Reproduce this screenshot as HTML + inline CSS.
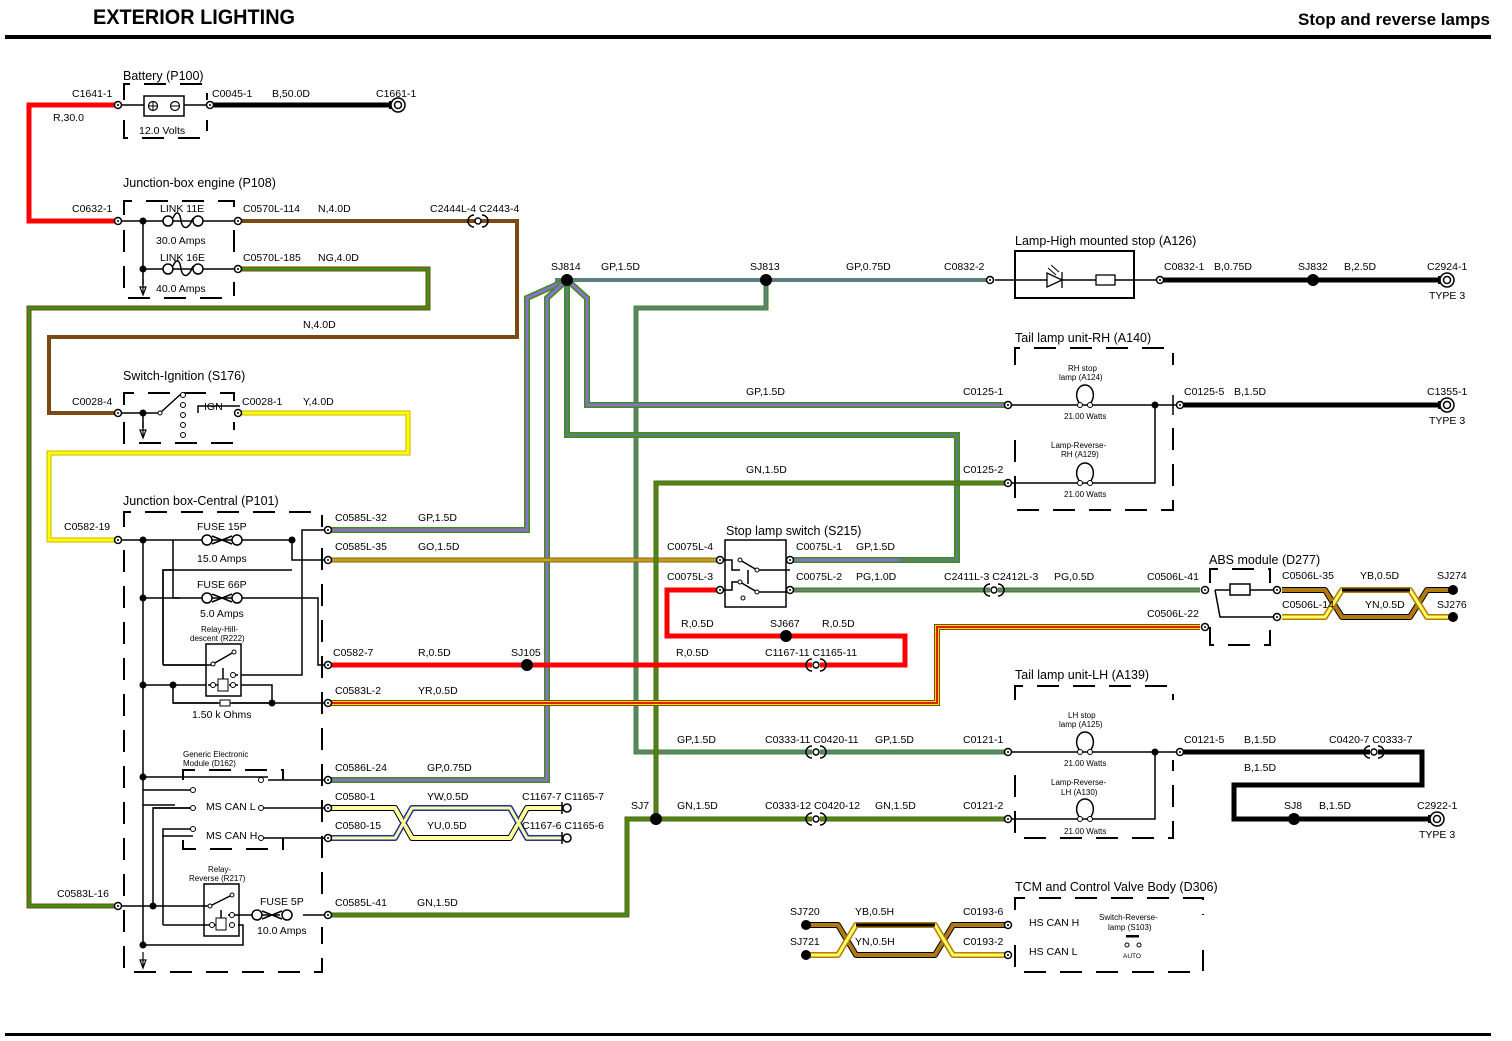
<!DOCTYPE html>
<html><head><meta charset="utf-8"><style>
html,body{margin:0;padding:0;background:#fff;}
svg{display:block;}
text{font-family:"Liberation Sans",sans-serif;font-size:11px;fill:#000;}
.h{font-family:"Liberation Sans Narrow","Liberation Sans",sans-serif;font-weight:bold;font-size:21px;}
.h2{font-family:"Liberation Sans Narrow","Liberation Sans",sans-serif;font-weight:bold;font-size:17px;}
.t{font-size:12.5px;}
.s{font-size:10.5px;}
.xs{font-size:8px;}
.db{fill:none;stroke:#000;stroke-width:2;stroke-dasharray:22 14;}
.k{fill:none;stroke:#000;stroke-width:1.5;}
.w{fill:none;stroke-linejoin:miter;}
</style></head><body>
<svg width="1512" height="1041" viewBox="0 0 1512 1041" xmlns="http://www.w3.org/2000/svg">
<defs>
<g id="c"><circle cx="0" cy="0" r="3.5" fill="#fff" stroke="#000" stroke-width="1.5"/><circle cx="0" cy="0" r="1" fill="#000"/></g>
<g id="cl"><circle cx="0" cy="0" r="4" fill="#fff" stroke="#000" stroke-width="1.5"/><path d="M-5,-6 L-5,6" stroke="#000" stroke-width="1.5"/></g>
<g id="ic"><path d="M-4,-6 A6,6 0 0 0 -4,6" fill="none" stroke="#000" stroke-width="1.5"/><circle cx="0" cy="0" r="3" fill="#fff" stroke="#000" stroke-width="1.5"/><path d="M4,-6 A6,6 0 0 1 4,6" fill="none" stroke="#000" stroke-width="1.5"/></g>
<g id="gnd"><rect x="-9" y="-4" width="4" height="8" fill="#000"/><circle cx="0" cy="0" r="7" fill="#fff" stroke="#000" stroke-width="1.5"/><circle cx="0" cy="0" r="3.5" fill="none" stroke="#000" stroke-width="1.5"/></g>
<g id="lamp"><path d="M-4,0 C-12,-8 -8,-20 0,-20 C8,-20 12,-8 4,0" fill="none" stroke="#000" stroke-width="1.5"/><circle cx="-5" cy="0" r="2.5" fill="#fff" stroke="#000"/><circle cx="5" cy="0" r="2.5" fill="#fff" stroke="#000"/></g>
<g id="fuse"><circle cx="-15" cy="0" r="5" fill="#fff" stroke="#000" stroke-width="1.5"/><circle cx="15" cy="0" r="5" fill="#fff" stroke="#000" stroke-width="1.5"/><path d="M-10,-4 L0,0 L-10,4 M10,-4 L0,0 L10,4" fill="none" stroke="#000" stroke-width="1.5"/></g>
<g id="link"><circle cx="-15" cy="0" r="5" fill="#fff" stroke="#000" stroke-width="1.5"/><circle cx="15" cy="0" r="5" fill="#fff" stroke="#000" stroke-width="1.5"/><path d="M-10,-3 C-6,-12 -3,-8 -2,0 C0,10 6,8 10,-3" fill="none" stroke="#000" stroke-width="1.5"/></g>
<g id="gv"><path d="M0,-6 L0,8 M-3,2 L0,10 L3,2 Z" fill="#fff" stroke="#000" stroke-width="1.2"/></g>
</defs>

<!-- header -->
<text x="93" y="24" class="h" textLength="202" lengthAdjust="spacingAndGlyphs">EXTERIOR LIGHTING</text>
<text x="1298" y="25" class="h2" textLength="192" lengthAdjust="spacingAndGlyphs">Stop and reverse lamps</text>
<rect x="5" y="35" width="1486" height="4" fill="#000"/>
<rect x="5" y="1033" width="1486" height="3" fill="#000"/>

<!-- ============ WIRES ============ -->
<path class="w" d="M118,105 H29 V221 H118" stroke="#f00" stroke-width="5"/>
<path class="w" d="M212,105 H390" stroke="#000" stroke-width="5"/>
<path class="w" d="M240,221 H517 V337 H49 V413 H118" stroke="#7a4a12" stroke-width="4"/>
<path class="w" d="M240,269 H428 V308 H29 V906 H118" stroke="#7a4a12" stroke-width="5"/>
<path class="w" d="M240,269 H428 V308 H29 V906 H118" stroke="#3f8f12" stroke-width="3"/>
<path class="w" d="M240,413 H408 V453 H49 V540 H118" stroke="#c8b400" stroke-width="5"/>
<path class="w" d="M240,413 H408 V453 H49 V540 H118" stroke="#ffff00" stroke-width="3"/>

<path class="w" d="M555,280 H988" stroke="#5f7f7f" stroke-width="4"/>
<path class="w" d="M766,280 V308 H636 V752 H812 M820,752 H1008" stroke="#3f8f12" stroke-width="5"/>
<path class="w" d="M766,280 V308 H636 V752 H812 M820,752 H1008" stroke="#5f7f7f" stroke-width="3"/>
<g class="w">
<path d="M328,530 H527 V298 L567,280" stroke="#3f8f12" stroke-width="6" fill="none"/>
<path d="M328,530 H527 V298 L567,280" stroke="#8c6fd0" stroke-width="3" fill="none"/>
<path d="M328,780 H547 V298 L567,280" stroke="#3f8f12" stroke-width="6" fill="none"/>
<path d="M328,780 H547 V298 L567,280" stroke="#8c6fd0" stroke-width="3" fill="none"/>
<path d="M567,280 V435 H957 V560 H790" stroke="#3f8f12" stroke-width="6" fill="none"/>
<path d="M567,280 V435 H957 V560 H790" stroke="#5f7f7f" stroke-width="3" fill="none"/>
<path d="M567,280 L587,298 V405 H1008" stroke="#3f8f12" stroke-width="6" fill="none"/>
<path d="M567,280 L587,298 V405 H1008" stroke="#8c6fd0" stroke-width="3" fill="none"/>
<path d="M900,560 H790" stroke="#8c6fd0" stroke-width="3" fill="none"/>
</g>
<path class="w" d="M328,560 H720" stroke="#7a6a10" stroke-width="5"/>
<path class="w" d="M328,560 H720" stroke="#c8a020" stroke-width="3"/>
<path class="w" d="M328,915 H627 V819 H812 M820,819 H1008 M656,819 V483 H1008" stroke="#6a5a12" stroke-width="5"/>
<path class="w" d="M328,915 H627 V819 H812 M820,819 H1008 M656,819 V483 H1008" stroke="#3f8f12" stroke-width="3"/>
<path class="w" d="M328,665 H812 M820,665 H905 V636 H667 V590 H720" stroke="#f00" stroke-width="5"/>
<path class="w" d="M328,703 H937 V627 H1200" stroke="#7a4a12" stroke-width="6"/>
<path class="w" d="M328,703 H937 V627 H1200" stroke="#ffdd00" stroke-width="4"/>
<path class="w" d="M328,703 H937 V627 H1200" stroke="#e02000" stroke-width="2"/>
<path class="w" d="M790,590 H990 M998,590 H1200" stroke="#3f8f12" stroke-width="5"/>
<path class="w" d="M790,590 H990 M998,590 H1200" stroke="#8c6fd0" stroke-width="1.5"/>
<path class="w" d="M1162,280 H1440" stroke="#000" stroke-width="5"/>
<path class="w" d="M1182,405 H1440" stroke="#000" stroke-width="5"/>
<path class="w" d="M1182,752 H1370 M1378,752 H1422 V785 H1234 V819 H1440" stroke="#000" stroke-width="5"/>

<g fill="none" stroke-linejoin="round">
<path d="M330,808 H395 L412,838 H510 L527,808 H562" stroke="#000" stroke-width="6"/>
<path d="M330,808 H395 L412,838 H510 L527,808 H562" stroke="#ffffa0" stroke-width="4"/>
<path d="M330,838 H395 L412,808 H510 L527,838 H562" stroke="#2030a0" stroke-width="6"/>
<path d="M330,838 H395 L412,808 H510 L527,838 H562" stroke="#ffffa0" stroke-width="3"/>
<path d="M330,808 H395 L412,838 H510 L527,808 H562" stroke="#ffffa0" stroke-width="3"/>
<path d="M1282,590 H1325 L1342,617 H1410 L1427,590 H1453" stroke="#000" stroke-width="6"/>
<path d="M1282,590 H1325 L1342,617 H1410 L1427,590 H1453" stroke="#b07a10" stroke-width="4"/>
<path d="M1282,617 H1325 L1342,590 H1410 L1427,617 H1453" stroke="#b07a10" stroke-width="6"/>
<path d="M1282,617 H1325 L1342,590 H1410 L1427,617 H1453" stroke="#ffff60" stroke-width="3"/>
<path d="M1342,590 H1410" stroke="#000" stroke-width="3"/>
<path d="M806,925 H838 L856,955 H935 L953,925 H1008" stroke="#000" stroke-width="6"/>
<path d="M806,925 H838 L856,955 H935 L953,925 H1008" stroke="#b07a10" stroke-width="4"/>
<path d="M806,955 H838 L856,925 H935 L953,955 H1008" stroke="#b07a10" stroke-width="6"/>
<path d="M806,955 H838 L856,925 H935 L953,955 H1008" stroke="#ffff60" stroke-width="3"/>
<path d="M856,925 H935" stroke="#000" stroke-width="3"/>
</g>

<g fill="#000">
<circle cx="567" cy="280" r="6"/><circle cx="766" cy="280" r="6"/>
<circle cx="1313" cy="280" r="6"/><circle cx="527" cy="665" r="6"/>
<circle cx="786" cy="636" r="6"/><circle cx="656" cy="819" r="6"/>
<circle cx="1294" cy="819" r="6"/><circle cx="1453" cy="590" r="5"/><circle cx="1453" cy="617" r="5"/>
<circle cx="806" cy="925" r="5"/><circle cx="806" cy="955" r="5"/>
</g>

<!-- Battery -->
<text x="123" y="80" class="t">Battery (P100)</text>
<path class="db" d="M124,100 V84 H207 V100 M124,120 V138 H207 V120"/>
<path class="k" d="M118,105 H210"/>
<rect x="144" y="96" width="40" height="20" fill="#fff" stroke="#000" stroke-width="1.5"/>
<circle cx="153" cy="106" r="4.5" fill="none" stroke="#000" stroke-width="1.2"/><path d="M149,106 H157 M153,102 V110" stroke="#000"/>
<circle cx="175" cy="106" r="4.5" fill="none" stroke="#000" stroke-width="1.2"/><path d="M171,106 H179" stroke="#000"/>
<text x="139" y="134" class="s">12.0 Volts</text>
<use href="#c" x="118" y="105"/><use href="#c" x="210" y="105"/>
<use href="#gnd" x="398" y="105"/>
<text x="72" y="97" class="s">C1641-1</text><text x="53" y="121" class="s">R,30.0</text>
<text x="212" y="97" class="s">C0045-1</text><text x="272" y="97" class="s">B,50.0D</text>
<text x="376" y="97" class="s">C1661-1</text>

<!-- Junction-box engine -->
<text x="123" y="187" class="t">Junction-box engine (P108)</text>
<path class="db" d="M124,215 V201 H234 V215 M124,230 V298 H234 V282 M234,230 V258"/>
<path class="k" d="M118,221 H240 M143,221 V285 M143,269 H240"/>
<circle cx="143" cy="221" r="3.5" fill="#000"/><circle cx="143" cy="269" r="3.5" fill="#000"/>
<use href="#gv" x="143" y="285"/>
<use href="#link" x="183" y="221"/><use href="#link" x="183" y="269"/>
<text x="160" y="212" class="s">LINK 11E</text><text x="156" y="244" class="s">30.0 Amps</text>
<text x="160" y="261" class="s">LINK 16E</text><text x="156" y="292" class="s">40.0 Amps</text>
<use href="#c" x="118" y="221"/><use href="#c" x="238" y="221"/><use href="#c" x="238" y="269"/>
<text x="72" y="212" class="s">C0632-1</text>
<text x="243" y="212" class="s">C0570L-114</text><text x="318" y="212" class="s">N,4.0D</text>
<text x="243" y="261" class="s">C0570L-185</text><text x="318" y="261" class="s">NG,4.0D</text>
<text x="430" y="212" class="s">C2444L-4 C2443-4</text>
<use href="#ic" x="478" y="221"/>
<text x="303" y="328" class="s">N,4.0D</text>

<!-- Switch ignition -->
<text x="123" y="380" class="t">Switch-Ignition (S176)</text>
<path class="db" d="M124,405 V393 H234 V405 M124,422 V443 H234 V422"/>
<path class="k" d="M118,413 H160 M143,413 V428 M160,413 L182,393 M198,413 V406 H240"/>
<circle cx="143" cy="413" r="3.5" fill="#000"/><use href="#gv" x="143" y="428"/>
<g fill="#fff" stroke="#000"><circle cx="160" cy="413" r="2"/><circle cx="183" cy="395" r="2.5"/><circle cx="183" cy="405" r="2.5"/><circle cx="183" cy="415" r="2.5"/><circle cx="183" cy="425" r="2.5"/><circle cx="183" cy="435" r="2.5"/></g>
<text x="204" y="410" class="s">IGN</text>
<use href="#c" x="118" y="413"/><use href="#c" x="238" y="413"/>
<text x="72" y="405" class="s">C0028-4</text>
<text x="242" y="405" class="s">C0028-1</text><text x="303" y="405" class="s">Y,4.0D</text>

<!-- Junction box central -->
<text x="123" y="505" class="t">Junction box-Central (P101)</text>
<path class="db" d="M124,527 V512 H322 V527 M124,550 V972 H322 V927 M322,548 V900"/>
<g class="k">
<path d="M118,540 H292 V560 H328 M143,540 V945 M173,540 V598 M173,598 H318 V665 H328"/>
<path d="M143,598 H180"/>
<path d="M163,665 V570 H173 M163,665 H208 M173,685 V703 H328 M143,685 H208 M238,685 H272 V703"/>
<path d="M238,675 H302 V530 H328"/>
<path d="M143,805 H175 M153,906 V808 H193 M163,835 V836 H193 M143,777 H265"/>
</g>
<path class="k" d="M163,663 V570 H292"/>
<circle cx="143" cy="540" r="3.5" fill="#000"/><circle cx="292" cy="540" r="3.5" fill="#000"/>
<circle cx="143" cy="598" r="3.5" fill="#000"/><circle cx="143" cy="685" r="3.5" fill="#000"/>
<circle cx="173" cy="685" r="3.5" fill="#000"/><circle cx="272" cy="703" r="3.5" fill="#000"/>
<circle cx="143" cy="777" r="3.5" fill="#000"/><circle cx="153" cy="906" r="3.5" fill="#000"/>
<circle cx="143" cy="945" r="3.5" fill="#000"/>
<use href="#fuse" x="222" y="540"/><use href="#fuse" x="222" y="598"/>
<text x="197" y="530" class="s">FUSE 15P</text><text x="197" y="562" class="s">15.0 Amps</text>
<text x="197" y="588" class="s">FUSE 66P</text><text x="200" y="617" class="s">5.0 Amps</text>
<text x="201" y="632" class="xs">Relay-Hill-</text><text x="190" y="641" class="xs">descent (R222)</text>
<rect x="206" y="644" width="35" height="52" fill="#fff" stroke="#000" stroke-width="1.5"/>
<path class="k" d="M163,665 H213 M213,664 L234,652 M223,668 V680 M208,685 H218 M229,685 H238 M233,675 H238"/>
<rect x="218" y="679" width="10" height="12" fill="#fff" stroke="#000"/>
<g fill="#fff" stroke="#000"><circle cx="213" cy="664" r="2"/><circle cx="234" cy="652" r="2"/><circle cx="233" cy="675" r="2.5"/><circle cx="213" cy="685" r="2.5"/><circle cx="233" cy="685" r="2.5"/></g>
<path class="k" d="M173,703 H218 M232,703 H272"/><rect x="220" y="700" width="10" height="6" fill="#fff" stroke="#000"/>
<text x="192" y="718" class="s">1.50 k Ohms</text>
<text x="183" y="757" class="xs">Generic Electronic</text><text x="183" y="766" class="xs">Module (D162)</text>
<path class="db" d="M183,780 V770 H283 V780 M183,840 V849 H283 V838" stroke-dasharray="18 12"/>
<path class="k" d="M265,777 H268 M261,808 H328 M261,838 H328 M268,780 H328"/>
<g fill="#fff" stroke="#000"><circle cx="193" cy="790" r="2.5"/><circle cx="193" cy="808" r="2.5"/><circle cx="193" cy="829" r="2.5"/><circle cx="261" cy="780" r="2.5"/><circle cx="261" cy="808" r="2.5"/><circle cx="261" cy="838" r="2.5"/></g>
<path class="k" d="M143,790 H191 M153,808 H191 M163,838 V829 H191"/>
<text x="206" y="810" class="s">MS CAN L</text><text x="206" y="839" class="s">MS CAN H</text>
<text x="208" y="872" class="xs">Relay-</text><text x="189" y="881" class="xs">Reverse (R217)</text>
<rect x="204" y="884" width="35" height="52" fill="#fff" stroke="#000" stroke-width="1.5"/>
<path class="k" d="M118,906 H210 M210,906 L232,895 M221,910 V918 M163,925 H216 M238,925 H243 V945 H143 M228,915 H280 M303,915 H328"/>
<rect x="216" y="918" width="10" height="12" fill="#fff" stroke="#000"/>
<g fill="#fff" stroke="#000"><circle cx="210" cy="906" r="2"/><circle cx="232" cy="895" r="2"/><circle cx="232" cy="915" r="2.5"/><circle cx="212" cy="925" r="2.5"/><circle cx="232" cy="925" r="2.5"/></g>
<path class="k" d="M163,925 V838"/>
<use href="#fuse" x="272" y="915"/>
<text x="260" y="905" class="s">FUSE 5P</text><text x="257" y="934" class="s">10.0 Amps</text>
<use href="#gv" x="143" y="958"/>
<use href="#c" x="118" y="540"/><use href="#c" x="118" y="906"/>
<use href="#c" x="328" y="530"/><use href="#c" x="328" y="560"/><use href="#c" x="328" y="665"/><use href="#c" x="328" y="703"/>
<use href="#c" x="328" y="780"/><use href="#c" x="328" y="808"/><use href="#c" x="328" y="838"/><use href="#c" x="328" y="915"/>
<text x="64" y="530" class="s">C0582-19</text><text x="57" y="897" class="s">C0583L-16</text>
<text x="335" y="521" class="s">C0585L-32</text><text x="418" y="521" class="s">GP,1.5D</text>
<text x="335" y="550" class="s">C0585L-35</text><text x="418" y="550" class="s">GO,1.5D</text>
<text x="333" y="656" class="s">C0582-7</text><text x="418" y="656" class="s">R,0.5D</text><text x="511" y="656" class="s">SJ105</text>
<text x="335" y="694" class="s">C0583L-2</text><text x="418" y="694" class="s">YR,0.5D</text>
<text x="335" y="771" class="s">C0586L-24</text><text x="427" y="771" class="s">GP,0.75D</text>
<text x="335" y="800" class="s">C0580-1</text><text x="427" y="800" class="s">YW,0.5D</text>
<text x="335" y="829" class="s">C0580-15</text><text x="427" y="829" class="s">YU,0.5D</text>
<text x="522" y="800" class="s">C1167-7 C1165-7</text><text x="522" y="829" class="s">C1167-6 C1165-6</text>
<use href="#cl" x="567" y="808"/><use href="#cl" x="567" y="838"/>
<text x="335" y="906" class="s">C0585L-41</text><text x="417" y="906" class="s">GN,1.5D</text>

<!-- mid labels -->
<text x="551" y="270" class="s">SJ814</text><text x="601" y="270" class="s">GP,1.5D</text>
<text x="750" y="270" class="s">SJ813</text><text x="846" y="270" class="s">GP,0.75D</text>
<text x="944" y="270" class="s">C0832-2</text><use href="#c" x="990" y="280"/>
<text x="746" y="395" class="s">GP,1.5D</text>
<text x="746" y="473" class="s">GN,1.5D</text>
<text x="631" y="809" class="s">SJ7</text>
<text x="677" y="743" class="s">GP,1.5D</text><text x="765" y="743" class="s">C0333-11 C0420-11</text><text x="875" y="743" class="s">GP,1.5D</text>
<text x="677" y="809" class="s">GN,1.5D</text><text x="765" y="809" class="s">C0333-12 C0420-12</text><text x="875" y="809" class="s">GN,1.5D</text>
<use href="#ic" x="816" y="752"/><use href="#ic" x="816" y="819"/>
<text x="681" y="627" class="s">R,0.5D</text><text x="770" y="627" class="s">SJ667</text><text x="822" y="627" class="s">R,0.5D</text>
<text x="676" y="656" class="s">R,0.5D</text><text x="765" y="656" class="s">C1167-11 C1165-11</text>
<use href="#ic" x="816" y="665"/>

<!-- Stop lamp switch -->
<text x="726" y="535" class="t">Stop lamp switch (S215)</text>
<rect x="725" y="540" width="61" height="67" fill="#fff" stroke="#000" stroke-width="1.5"/>
<path class="k" d="M720,560 H732 V570 H740 M740,560 L757,570 H790 M720,590 H732 V582 H740 L757,592 H790 M748,570 V584"/>
<g fill="#fff" stroke="#000"><circle cx="740" cy="560" r="2"/><circle cx="757" cy="570" r="2"/><circle cx="740" cy="582" r="2"/><circle cx="757" cy="592" r="2"/><circle cx="743" cy="598" r="2"/></g>
<use href="#c" x="720" y="560"/><use href="#c" x="720" y="590"/><use href="#c" x="790" y="560"/><use href="#c" x="790" y="590"/>
<text x="667" y="550" class="s">C0075L-4</text><text x="667" y="580" class="s">C0075L-3</text>
<text x="796" y="550" class="s">C0075L-1</text><text x="856" y="550" class="s">GP,1.5D</text>
<text x="796" y="580" class="s">C0075L-2</text><text x="856" y="580" class="s">PG,1.0D</text>
<text x="944" y="580" class="s">C2411L-3 C2412L-3</text><text x="1054" y="580" class="s">PG,0.5D</text>
<use href="#ic" x="994" y="590"/>
<text x="1147" y="580" class="s">C0506L-41</text><text x="1147" y="617" class="s">C0506L-22</text>

<!-- ABS -->
<text x="1209" y="564" class="t">ABS module (D277)</text>
<path class="db" d="M1210,583 V569 H1270 V583 M1210,627 V645 H1270 V630" stroke-dasharray="16 14"/>
<path class="k" d="M1215,590 H1230 M1250,590 H1275 M1215,590 L1220,617 H1275"/>
<rect x="1230" y="584" width="20" height="11" fill="#fff" stroke="#000" stroke-width="1.5"/>
<use href="#c" x="1205" y="590"/><use href="#c" x="1205" y="627"/><use href="#c" x="1277" y="590"/><use href="#c" x="1277" y="617"/>
<text x="1282" y="579" class="s">C0506L-35</text><text x="1360" y="579" class="s">YB,0.5D</text><text x="1437" y="579" class="s">SJ274</text>
<text x="1282" y="608" class="s">C0506L-14</text><text x="1365" y="608" class="s">YN,0.5D</text><text x="1437" y="608" class="s">SJ276</text>

<!-- High mounted stop -->
<text x="1015" y="245" class="t">Lamp-High mounted stop (A126)</text>
<rect x="1015" y="251" width="119" height="47" fill="none" stroke="#000" stroke-width="2"/>
<path class="k" d="M995,280 H1048 M1062,280 H1096 M1115,280 H1158"/>
<path d="M1047,273 V287 L1062,280 Z M1062,272 V288" fill="#fff" stroke="#000" stroke-width="1.3"/>
<path d="M1048,268 L1056,275 M1051,265 L1059,272" stroke="#000"/>
<rect x="1096" y="275" width="19" height="10" fill="#fff" stroke="#000" stroke-width="1.3"/>
<use href="#c" x="1160" y="280"/>
<text x="1164" y="270" class="s">C0832-1</text><text x="1214" y="270" class="s">B,0.75D</text>
<text x="1298" y="270" class="s">SJ832</text><text x="1344" y="270" class="s">B,2.5D</text>
<text x="1427" y="270" class="s">C2924-1</text><text x="1429" y="299" class="s">TYPE 3</text>
<use href="#gnd" x="1447" y="280"/>

<!-- Tail RH -->
<text x="1015" y="342" class="t">Tail lamp unit-RH (A140)</text>
<path class="db" d="M1015,365 V348 H1173 V365 M1015,440 V510 H1173 V420" stroke-dasharray="15 18"/>
<path class="k" d="M1173,395 V415"/>
<path class="k" d="M1008,405 H1180 M1008,483 H1155 V405"/>
<circle cx="1155" cy="405" r="3.5" fill="#000"/>
<use href="#lamp" x="1085" y="405"/><use href="#lamp" x="1085" y="483"/>
<text x="1068" y="371" class="xs">RH stop</text><text x="1059" y="380" class="xs">lamp (A124)</text>
<text x="1064" y="419" class="xs">21.00 Watts</text>
<text x="1051" y="448" class="xs">Lamp-Reverse-</text><text x="1061" y="457" class="xs">RH (A129)</text>
<text x="1064" y="497" class="xs">21.00 Watts</text>
<use href="#c" x="1008" y="405"/><use href="#c" x="1008" y="483"/><use href="#c" x="1180" y="405"/>
<text x="963" y="395" class="s">C0125-1</text><text x="963" y="473" class="s">C0125-2</text>
<text x="1184" y="395" class="s">C0125-5</text><text x="1234" y="395" class="s">B,1.5D</text>
<text x="1427" y="395" class="s">C1355-1</text><text x="1429" y="424" class="s">TYPE 3</text>
<use href="#gnd" x="1447" y="405"/>

<!-- Tail LH -->
<text x="1015" y="679" class="t">Tail lamp unit-LH (A139)</text>
<path class="db" d="M1015,700 V686 H1173 V700 M1015,775 V838 H1173 V760" stroke-dasharray="15 18"/>
<path class="k" d="M1008,752 H1180 M1008,819 H1155 V752"/>
<circle cx="1155" cy="752" r="3.5" fill="#000"/>
<use href="#lamp" x="1085" y="752"/><use href="#lamp" x="1085" y="819"/>
<text x="1068" y="718" class="xs">LH stop</text><text x="1059" y="727" class="xs">lamp (A125)</text>
<text x="1064" y="766" class="xs">21.00 Watts</text>
<text x="1051" y="785" class="xs">Lamp-Reverse-</text><text x="1061" y="795" class="xs">LH (A130)</text>
<text x="1064" y="834" class="xs">21.00 Watts</text>
<use href="#c" x="1008" y="752"/><use href="#c" x="1008" y="819"/><use href="#c" x="1180" y="752"/>
<text x="963" y="743" class="s">C0121-1</text><text x="963" y="809" class="s">C0121-2</text>
<text x="1184" y="743" class="s">C0121-5</text><text x="1244" y="743" class="s">B,1.5D</text>
<text x="1329" y="743" class="s">C0420-7 C0333-7</text><use href="#ic" x="1374" y="752"/>
<text x="1244" y="771" class="s">B,1.5D</text>
<text x="1284" y="809" class="s">SJ8</text><text x="1319" y="809" class="s">B,1.5D</text>
<text x="1417" y="809" class="s">C2922-1</text><text x="1419" y="838" class="s">TYPE 3</text>
<use href="#gnd" x="1437" y="819"/>

<!-- TCM -->
<text x="1015" y="891" class="t">TCM and Control Valve Body (D306)</text>
<path class="db" d="M1015,910 V898 H1203 V915 M1015,945 V972 H1203 V950" stroke-dasharray="15 18"/>
<use href="#c" x="1008" y="925"/><use href="#c" x="1008" y="955"/>
<text x="790" y="915" class="s">SJ720</text><text x="855" y="915" class="s">YB,0.5H</text><text x="963" y="915" class="s">C0193-6</text>
<text x="790" y="945" class="s">SJ721</text><text x="855" y="945" class="s">YN,0.5H</text><text x="963" y="945" class="s">C0193-2</text>
<text x="1029" y="926" class="s">HS CAN H</text><text x="1029" y="955" class="s">HS CAN L</text>
<text x="1099" y="920" class="xs">Switch-Reverse-</text><text x="1108" y="930" class="xs">lamp (S103)</text>
<rect x="1126" y="935" width="13" height="2.5" fill="#000"/>
<circle cx="1127" cy="945" r="2" fill="#fff" stroke="#000"/><circle cx="1139" cy="945" r="2" fill="#fff" stroke="#000"/>
<text x="1123" y="958" class="xs" style="font-size:6.5px">AUTO</text>
</svg>
</body></html>
